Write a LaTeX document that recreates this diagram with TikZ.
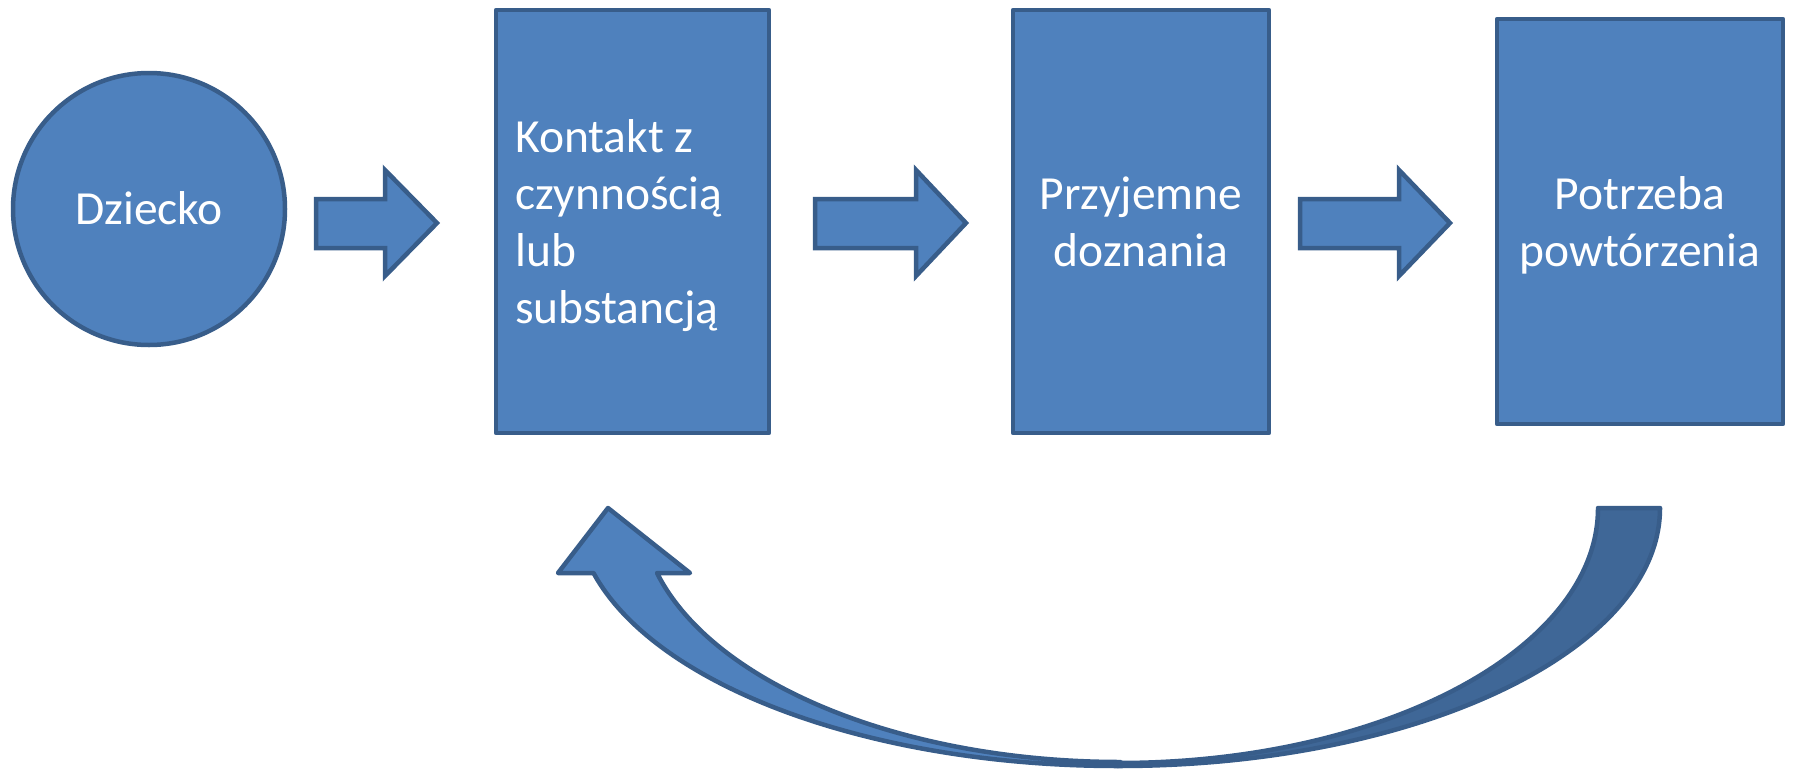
\documentclass[tikz,border=0pt]{standalone}
\usepackage{fontspec}
\setmainfont{Carlito}
\definecolor{boxfill}{HTML}{4F81BD}
\definecolor{boxline}{HTML}{385D8A}
\definecolor{backfill}{HTML}{3F6797}
\begin{document}
\begin{tikzpicture}[x=1pt,y=-1pt,
  shapebox/.style={draw=boxline,fill=boxfill,line width=4.5pt,line join=round},
  lbl/.style={text=white,inner sep=0pt,font=\fontsize{47.5}{57}\selectfont},
  blockarrow/.style={draw=boxline,fill=boxfill,line width=4.5pt,line join=miter}]
\useasboundingbox (0,0) rectangle (1793,771);
% nodes
\node[shapebox,circle,minimum size=272pt,inner sep=0pt] (dz) at (149,209) {};
\node[lbl,anchor=base] (dzt) at (149,224) {Dziecko};
\draw[shapebox] (496,10) rectangle (769,433);
\draw[shapebox] (1013,10) rectangle (1269,433);
\draw[shapebox] (1497,19) rectangle (1783,424);
\node[lbl,align=left,anchor=west] (kt) at (515,226) {Kontakt z\\czynnością\\lub\\substancją};
\node[lbl,align=center] (pt) at (1141,221.5) {Przyjemne\\doznania};
\node[lbl,align=center] (ot) at (1640,225) {Potrzeba\\powtórzenia};
% straight block arrows
\draw[blockarrow] (316,199) -- (385,199) -- (385,170) -- (437,223) -- (385,276) -- (385,248) -- (316,248) -- cycle;
\draw[blockarrow] (815,199) -- (916,199) -- (916,170) -- (966,223) -- (916,276) -- (916,248) -- (815,248) -- cycle;
\draw[blockarrow] (1300,199) -- (1399,199) -- (1399,170) -- (1450,223) -- (1399,276) -- (1399,248) -- (1300,248) -- cycle;
% curved arrow: back part
\draw[shapebox,fill=backfill] (1660,508) arc[start angle=0,end angle=90,x radius=542,y radius=258]
  -- (1118,763) arc[start angle=90,end angle=0,x radius=480,y radius=255] -- cycle;
% curved arrow: front part with head
\draw[shapebox] (1118,766) arc[start angle=90,end angle=165.4,x radius=542,y radius=258]
  -- (558,573) -- (608,508) -- (690,573) -- (657,573)
  arc[start angle=165,end angle=90,x radius=480,y radius=255] -- cycle;
\end{tikzpicture}
\end{document}
